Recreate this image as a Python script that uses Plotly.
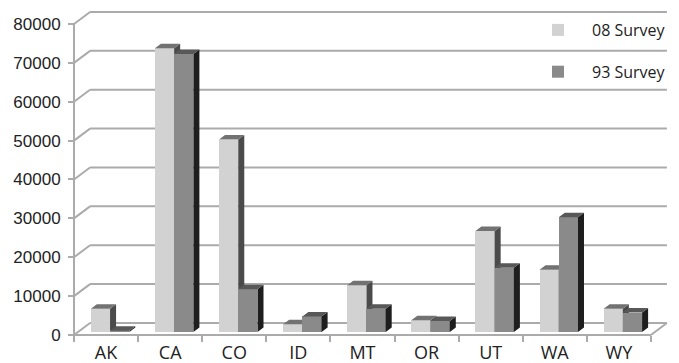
import plotly.graph_objects as go

# ---- data -------------------------------------------------------------
states = ["AK", "CA", "CO", "ID", "MT", "OR", "UT", "WA", "WY"]
survey_08 = [6000, 73000, 49500, 2000, 12000, 3000, 26000, 16000, 6000]
survey_93 = [300, 71500, 11000, 4000, 6000, 2800, 16500, 29500, 5000]
y_ticks = list(range(0, 80001, 10000))

# ---- pseudo-3D geometry -----------------------------------------------
# a point (x, v, z) with depth z in [0, 1] is drawn at (x + DX*z, v + DY*z)
DX = 0.25          # category units at full depth
DY = 3086          # value units at full depth
Z_FRONT, Z_BACK = 0.25, 0.625
BAR_W = 0.30

# pixel frame of the chart
W, H = 679, 363
PL, PR, PT, PB = 70, 669, 10, 338       # plot area edges (px)
OX, OY = 74, 335                        # front origin (px)
PX_CAT = 64.1                           # px per category
PX_VAL = 0.003888                       # px per value unit

x_range = [-0.5 - (OX - PL) / PX_CAT, -0.5 + (PR - OX) / PX_CAT]
y_range = [-(PB - OY) / PX_VAL, (OY - PT) / PX_VAL]

GRID = "#ababab"
TEXT = "#222222"

styles = {
    "08 Survey": dict(front="#d2d2d2", top="#727272", side="#4b4b4b"),
    "93 Survey": dict(front="#8a8a8a", top="#585858", side="#1e1e1e"),
}


def proj(x, v, z):
    return x + DX * z, v + DY * z


def faces(values, left_off):
    """Top and side parallelograms for a row of bars."""
    tx, ty, sx, sy = [], [], [], []
    for i, v in enumerate(values):
        x0, x1 = i + left_off, i + left_off + BAR_W
        for (a, b, c) in [(x0, v, Z_FRONT), (x1, v, Z_FRONT), (x1, v, Z_BACK), (x0, v, Z_BACK)]:
            px, py = proj(a, b, c)
            tx.append(px); ty.append(py)
        tx.append(None); ty.append(None)
        for (a, b, c) in [(x1, 0, Z_FRONT), (x1, v, Z_FRONT), (x1, v, Z_BACK), (x1, 0, Z_BACK)]:
            px, py = proj(a, b, c)
            sx.append(px); sy.append(py)
        sx.append(None); sy.append(None)
    return tx, ty, sx, sy


fig = go.Figure()

series = [("08 Survey", survey_08, -BAR_W, "x", "y"),
          ("93 Survey", survey_93, 0.0, "x2", "y2")]

for name, vals, off, xa, ya in series:
    st = styles[name]
    fx, fy = proj(0, 0, Z_FRONT)
    fig.add_trace(go.Bar(
        x=[i + off + BAR_W / 2 + fx for i in range(len(states))],
        y=vals, base=fy, width=BAR_W,
        marker=dict(color=st["front"], line=dict(width=0)),
        name=name, legendgroup=name, xaxis=xa, yaxis=ya,
        hoverinfo="skip",
    ))
    tx, ty, sx, sy = faces(vals, off)
    fig.add_trace(go.Scatter(x=sx, y=sy, mode="lines", fill="toself",
                             fillcolor=st["side"], line=dict(width=0),
                             showlegend=False, hoverinfo="skip",
                             xaxis=xa, yaxis=ya))
    fig.add_trace(go.Scatter(x=tx, y=ty, mode="lines", fill="toself",
                             fillcolor=st["top"], line=dict(width=0),
                             showlegend=False, hoverinfo="skip",
                             xaxis=xa, yaxis=ya))

# ---- walls, floor and front axes --------------------------------------
xl, xr = -0.5, len(states) - 0.5
path = []
for g in y_ticks:
    a = proj(xl, g, 1); b = proj(xr, g, 1); c = proj(xl, g, 0)
    path.append(f"M{a[0]},{a[1]} L{b[0]},{b[1]}")
    path.append(f"M{c[0]},{c[1]} L{a[0]},{a[1]}")
p0 = proj(xr, 0, 0); p1 = proj(xr, 0, 1)
path.append(f"M{p0[0]},{p0[1]} L{p1[0]},{p1[1]}")
path.append(f"M{xl},0 L{xr},0")
path.append(f"M{xl},0 L{xl},{y_ticks[-1]}")
shapes = [dict(type="path", path=" ".join(path), xref="x", yref="y",
               line=dict(color=GRID, width=2), layer="below")]

axis_common = dict(range=x_range, showgrid=False, zeroline=False, showline=False)

fig.update_layout(
    width=W, height=H,
    margin=dict(l=PL, r=W - PR, t=PT, b=H - PB, autoexpand=False),
    plot_bgcolor="white", paper_bgcolor="white",
    barmode="overlay", bargap=0,
    shapes=shapes,
    xaxis=dict(
        **axis_common,
        tickmode="array", tickvals=list(range(len(states))), ticktext=states,
        ticks="", ticklabelstandoff=5,
        tickfont=dict(family="Open Sans, Noto Sans, sans-serif", size=18, color=TEXT),
        minor=dict(tickmode="array",
                   tickvals=[i - 0.5 for i in range(len(states) + 1)],
                   ticks="outside", ticklen=6, tickwidth=2, tickcolor=GRID),
        anchor="free", position=(PB - OY) / (PB - PT),
    ),
    yaxis=dict(
        range=y_range, showgrid=False, zeroline=False, showline=False,
        tickmode="array", tickvals=y_ticks, ticktext=[str(v) for v in y_ticks],
        ticks="outside", ticklen=6, tickwidth=2, tickcolor=GRID,
        ticklabelstandoff=4,
        tickfont=dict(family="Liberation Sans Narrow, Arial Narrow, sans-serif",
                      size=17, color=TEXT),
        anchor="free", position=(OX - PL) / (PR - PL),
    ),
    xaxis2=dict(**axis_common, overlaying="x", visible=False),
    yaxis2=dict(range=y_range, overlaying="y", visible=False,
                showgrid=False, zeroline=False),
    legend=dict(
        x=524 / W, xref="container", xanchor="left",
        y=1 - 13 / H, yref="container", yanchor="top",
        bgcolor="rgba(0,0,0,0)", borderwidth=0,
        itemwidth=58, tracegroupgap=18, traceorder="grouped",
        font=dict(family="Open Sans, Noto Sans, sans-serif", size=16, color=TEXT),
    ),
)

fig.write_html("out.html")
